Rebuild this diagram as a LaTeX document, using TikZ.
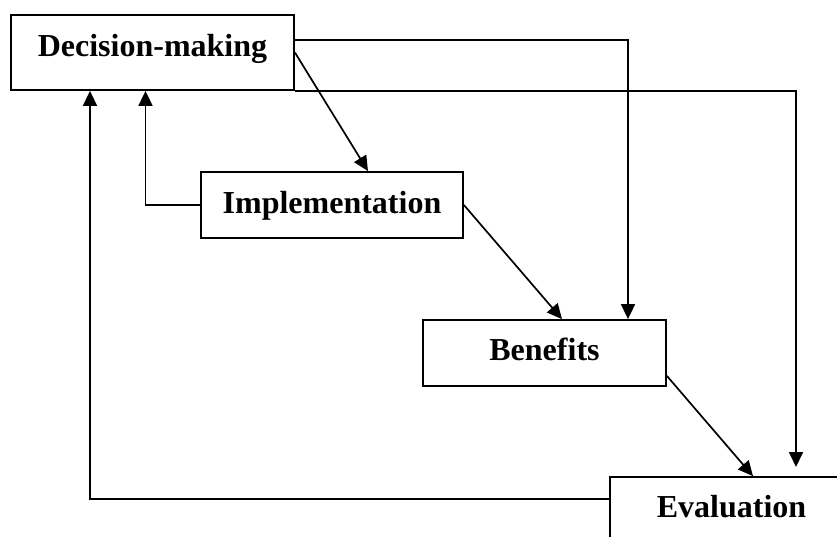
\documentclass[tikz,border=0pt]{standalone}
\usepackage{fontspec}
\setmainfont{Liberation Serif}
\usetikzlibrary{arrows.meta}
\begin{document}
\begin{tikzpicture}[x=1pt,y=-1pt,
  box/.style={draw, line width=1.8pt, inner sep=0pt, align=center, anchor=base,
    font=\fontsize{32}{38}\selectfont\bfseries},
  arr/.style={line width=1.7pt, -{Triangle[length=15pt,width=14pt]}}]
\useasboundingbox (0,0) rectangle (837,536);
\clip (0,0) rectangle (837,536);
\node[box, text width=283pt, text height=41pt, text depth=34pt] (DM) at (152.5,56) {Decision-making};
\node[box, text width=262pt, text height=41pt, text depth=25pt] (Impl) at (332,213) {Implementation};
\node[box, text width=243pt, text height=40pt, text depth=26pt] (Ben) at (544.5,360) {Benefits};
\node[box, text width=243pt, text height=40pt, text depth=26pt] (Eval) at (731.5,517) {Evaluation};
\coordinate (e1) at (796,467);
% connectors
\draw[arr] ([yshift=-26pt]DM.north east) -| ([xshift=83.5pt]Ben.north);
\draw[arr] (DM.south east) -| (e1);
\draw[arr] (DM.east) -- ([xshift=36pt]Impl.north);
\draw[arr] (Impl.west) -| ([xshift=-7pt]DM.south);
\draw[arr] ([yshift=-23pt]Eval.north west) -| ([xshift=-62.5pt]DM.south);
\draw[arr] (Impl.east) -- ([xshift=17.5pt]Ben.north);
\draw[arr] ([yshift=11pt]Ben.south east) -- ([xshift=21.5pt]Eval.north);
\end{tikzpicture}
\end{document}
